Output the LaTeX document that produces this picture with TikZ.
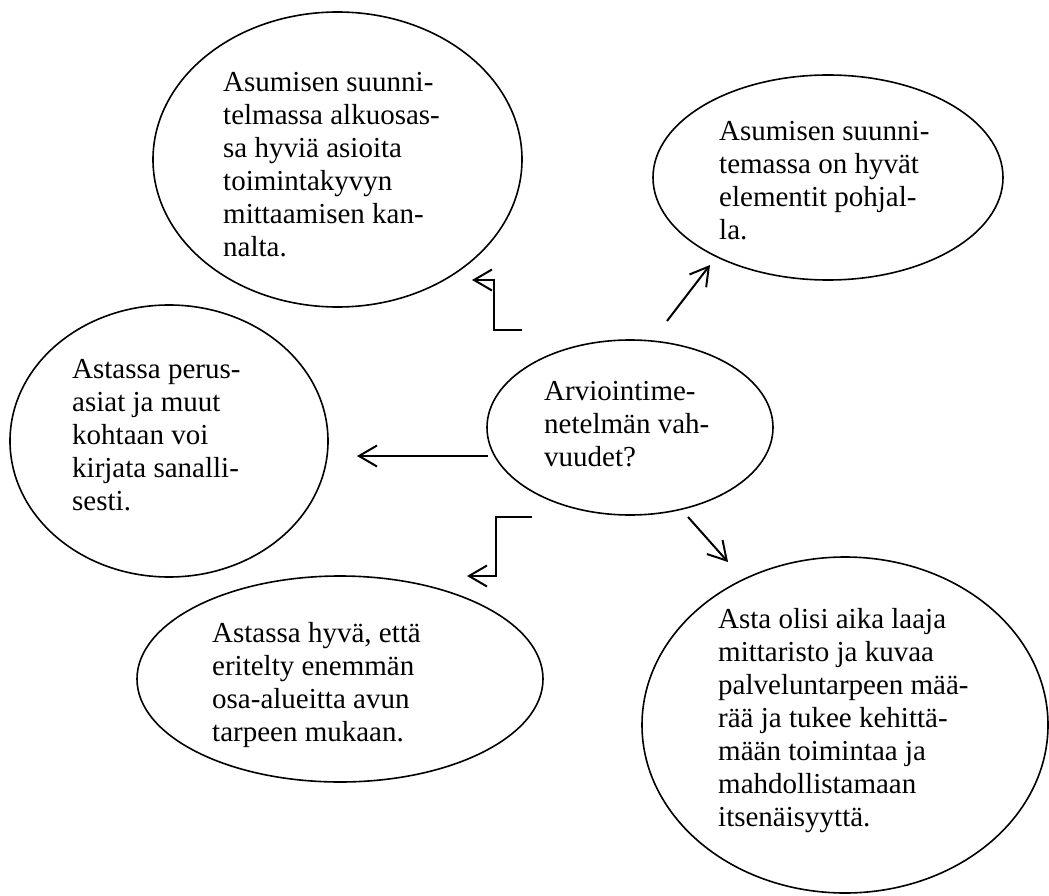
\documentclass[tikz,border=0pt]{standalone}
\usepackage{fontspec}
\setmainfont{Liberation Serif}
\usetikzlibrary{shapes.geometric,arrows.meta}
\begin{document}
\begin{tikzpicture}[x=1pt,y=-1pt,
  bubble/.style={draw, ellipse, line width=1.6pt, inner sep=0pt},
  label/.style={anchor=north west, inner sep=0pt, align=left, font=\fontsize{29}{33}\selectfont},
  conn/.style={line width=2pt, -{Straight Barb[length=18pt,width=21pt,line width=2pt]}}
]
\useasboundingbox (0,0) rectangle (1049,896);

\node[bubble, minimum width=369pt, minimum height=295pt] (tl) at (337.5,159.5) {};
\node[bubble, minimum width=350pt, minimum height=205pt] (tr) at (828,177.5) {};
\node[bubble, minimum width=318pt, minimum height=272pt] (l) at (169,441) {};
\node[bubble, minimum width=286pt, minimum height=175pt] (c) at (630,427.5) {};
\node[bubble, minimum width=406pt, minimum height=206pt] (bl) at (340,679) {};
\node[bubble, minimum width=406pt, minimum height=336pt] (br) at (845,725) {};

\node[label] (tltext) at (223,69) {\rule{0pt}{22pt}Asumisen suunni-\\telmassa alkuosas-\\sa hyviä asioita\\toimintakyvyn\\mittaamisen kan-\\nalta.};
\node[label] (trtext) at (719,118) {\rule{0pt}{22pt}Asumisen suunni-\\temassa on hyvät\\elementit pohjal-\\la.};
\node[label] (ltext) at (72,356) {\rule{0pt}{22pt}Astassa perus-\\asiat ja muut\\kohtaan voi\\kirjata sanalli-\\sesti.};
\node[label] (ctext) at (544,378) {\rule{0pt}{22pt}Arviointime-\\netelmän vah-\\vuudet?};
\node[label] (bltext) at (212,620) {\rule{0pt}{22pt}Astassa hyvä, että\\eritelty enemmän\\osa-alueitta avun\\tarpeen mukaan.};
\node[label] (brtext) at (718,606) {\rule{0pt}{22pt}Asta olisi aika laaja\\mittaristo ja kuvaa\\palveluntarpeen mää-\\rää ja tukee kehittä-\\mään toimintaa ja\\mahdollistamaan\\itsenäisyyttä.};

\coordinate (a1s) at (522,330);
\coordinate (a1e) at (472,280);
\coordinate (a2s) at (667,321);
\coordinate (a2e) at (710,265);
\coordinate (a3s) at (488,456);
\coordinate (a3e) at (357,456);
\coordinate (a4s) at (532,517);
\coordinate (a4e) at (467,576);
\coordinate (a5s) at (688,517);
\coordinate (a5e) at (728,562);

\draw[conn] (a1s) -- (494,330) -- (494,280) -- (a1e);
\draw[conn] (a2s) -- (a2e);
\draw[conn] (a3s) -- (a3e);
\draw[conn] (a4s) -- (496,517) -- (496,576) -- (a4e);
\draw[conn] (a5s) -- (a5e);
\end{tikzpicture}
\end{document}
